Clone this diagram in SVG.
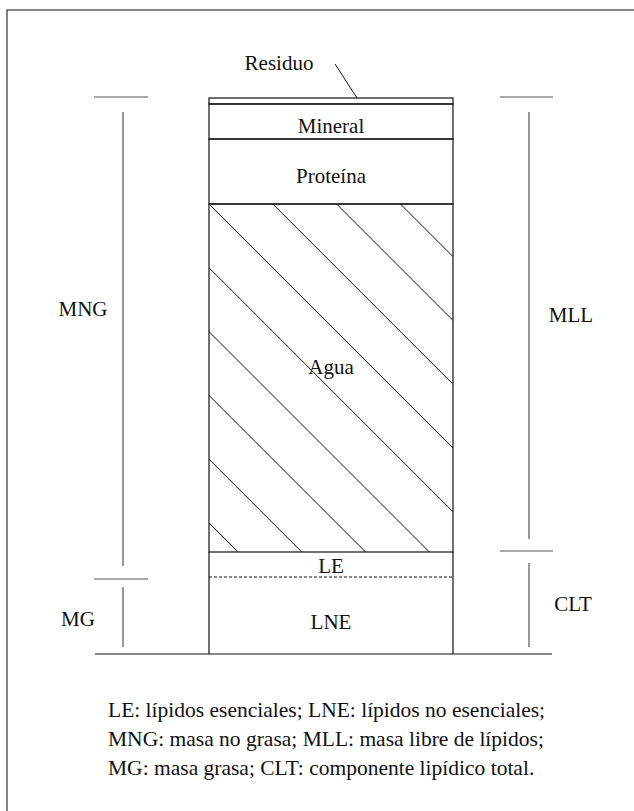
<svg xmlns="http://www.w3.org/2000/svg" width="634" height="811" viewBox="0 0 634 811">
  <style>
    .lbl { font-family: "Liberation Serif", "Times New Roman", serif; font-size: 21px; fill: #111; }
    .mid { text-anchor: middle; }
    .note { font-size: 21.5px; }
    .edge { fill: none; stroke: #111; stroke-width: 1.2; }
    .dim { stroke: #555; stroke-width: 1.2; fill: none; }
    .hatch { stroke: #111; stroke-width: 1; }
  </style>
  <defs>
    <clipPath id="water-clip">
      <rect x="209" y="204" width="244" height="348"/>
    </clipPath>
  </defs>

  <rect x="0" y="0" width="634" height="811" fill="#fff"/>
  <!-- page frame -->
  <rect x="7" y="10" width="660" height="840" fill="none" stroke="#333" stroke-width="1.2"/>

  <!-- composition column -->
  <g id="residuo">
    <rect class="edge" x="209" y="98" width="244" height="6"/>
    <text class="lbl mid" x="279" y="70">Residuo</text>
  </g>
  <g id="mineral">
    <rect class="edge" x="209" y="104" width="244" height="35"/>
    <text class="lbl mid" x="331" y="133">Mineral</text>
  </g>
  <g id="proteina">
    <rect class="edge" x="209" y="139" width="244" height="65"/>
    <text class="lbl mid" x="331" y="183">Proteína</text>
  </g>
  <g id="agua">
    <!-- diagonal hatching, 45 degrees, pitch about 64 px -->
    <g clip-path="url(#water-clip)">
      <line class="hatch" x1="400.4" y1="204" x2="760.4" y2="564"/>
      <line class="hatch" x1="336.6" y1="204" x2="696.6" y2="564"/>
      <line class="hatch" x1="272.8" y1="204" x2="632.8" y2="564"/>
      <line class="hatch" x1="209" y1="204" x2="569" y2="564"/>
      <line class="hatch" x1="145.2" y1="204" x2="505.2" y2="564"/>
      <line class="hatch" x1="81.4" y1="204" x2="441.4" y2="564"/>
      <line class="hatch" x1="17.6" y1="204" x2="377.6" y2="564"/>
      <line class="hatch" x1="-46.2" y1="204" x2="313.8" y2="564"/>
      <line class="hatch" x1="-110" y1="204" x2="250" y2="564"/>
    </g>
    <rect class="edge" x="209" y="204" width="244" height="348"/>
    <text class="lbl mid" x="331" y="374">Agua</text>
  </g>
  <g id="le">
    <line class="edge" x1="209" y1="552" x2="209" y2="577"/>
    <line class="edge" x1="453" y1="552" x2="453" y2="577"/>
    <line x1="209" y1="577" x2="453" y2="577" stroke="#111" stroke-width="1" stroke-dasharray="3,2"/>
    <text class="lbl mid" x="331" y="573">LE</text>
  </g>
  <g id="lne">
    <path class="edge" d="M209 577 V654 M453 577 V654"/>
    <text class="lbl mid" x="331" y="629">LNE</text>
  </g>

  <!-- dimension labels -->
  <g id="mng">
    <text class="lbl mid" x="83" y="316">MNG</text>
  </g>
  <g id="mg">
    <text class="lbl mid" x="78" y="626">MG</text>
  </g>
  <g id="mll">
    <text class="lbl mid" x="571" y="322">MLL</text>
  </g>
  <g id="clt">
    <text class="lbl mid" x="573" y="611">CLT</text>
  </g>

  <!-- connectors: leader and dimension lines -->
  <g id="connectors">
    <line x1="335" y1="64" x2="357" y2="98" stroke="#111" stroke-width="1"/>
    <line x1="95" y1="654" x2="552" y2="654" stroke="#111" stroke-width="1.2"/>
    <!-- left: MNG / MG -->
    <line class="dim" x1="94" y1="97" x2="148" y2="97"/>
    <line class="dim" x1="123" y1="112" x2="123" y2="566"/>
    <line class="dim" x1="94" y1="579" x2="148" y2="579"/>
    <line class="dim" x1="123" y1="587" x2="123" y2="647"/>
    <!-- right: MLL / CLT -->
    <line class="dim" x1="500" y1="97" x2="553" y2="97"/>
    <line class="dim" x1="529" y1="112" x2="529" y2="539"/>
    <line class="dim" x1="500" y1="551" x2="553" y2="551"/>
    <line class="dim" x1="529" y1="563" x2="529" y2="647"/>
  </g>

  <!-- legend -->
  <g id="legend">
    <text class="lbl note" x="108" y="717">LE: lípidos esenciales; LNE: lípidos no esenciales;</text>
    <text class="lbl note" x="108" y="746">MNG: masa no grasa; MLL: masa libre de lípidos;</text>
    <text class="lbl note" x="108" y="775">MG: masa grasa; CLT: componente lipídico total.</text>
  </g>
</svg>
